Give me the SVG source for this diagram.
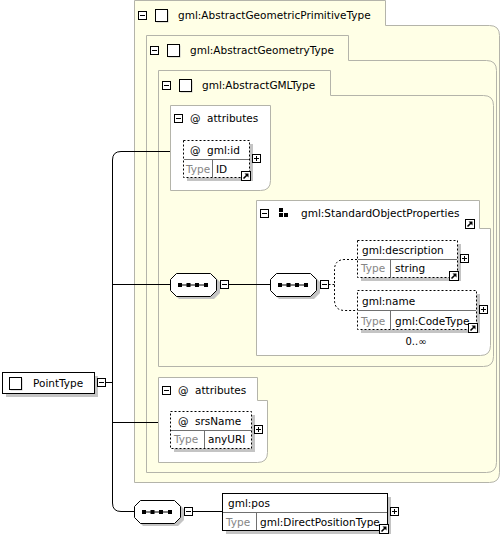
<svg xmlns="http://www.w3.org/2000/svg" xmlns:xlink="http://www.w3.org/1999/xlink" width="502" height="536" viewBox="0 0 502 536">
<style>
.grp{fill:#ffffe6;stroke:#b4b4aa;stroke-width:1}
.wgrp{fill:#ffffff;stroke:#b4b4aa;stroke-width:1}
.el{fill:#ffffff;stroke:#000;stroke-width:1;stroke-dasharray:2,2}
.els{fill:#ffffff;stroke:#000;stroke-width:1}
.sh{fill:#c4c4c4}
.dv{stroke:#707070;stroke-width:1;fill:none}
.t{font-family:"DejaVu Sans",Verdana,sans-serif;font-size:10.5px;fill:#000}
.tg{fill:#858585}
.sm{font-size:10px}
.ln{stroke:#000;stroke-width:1;fill:none}
.dl{stroke:#000;stroke-width:1;fill:none;stroke-dasharray:2,2}
</style>
<defs>
<g id="minus"><rect x="0.5" y="0.5" width="8" height="8" fill="#fff" stroke="#000"/><path d="M2,4.5H7" stroke="#000"/></g>
<g id="plus"><rect x="0.5" y="0.5" width="8" height="8" fill="#fff" stroke="#000"/><path d="M2,4.5H7M4.5,2V7" stroke="#000"/></g>
<g id="link"><rect x="0.5" y="0.5" width="9" height="9" fill="#fff" stroke="#000"/><path d="M2.5,7.5L6,4" stroke="#000" stroke-width="1.6"/><path d="M3.5,2.5H7.5V6.5Z" fill="#000"/></g>
<g id="sq"><rect x="1.5" y="1.5" width="12" height="12" fill="#c4c4c4"/><rect x="0.5" y="0.5" width="12" height="12" fill="#fff" stroke="#000"/></g>
<g id="seq"><path d="M9,3H44L50,9V20L44,26H9L3,20V9Z" fill="#c4c4c4"/><path d="M6.5,0.5H40.5L46.5,6.5V17.5L40.5,23.5H6.5L0.5,17.5V6.5Z" fill="#fff" stroke="#000"/><path d="M9,12H37" stroke="#000"/><rect x="8" y="10" width="4" height="4"/><rect x="16.5" y="10" width="4" height="4"/><rect x="25" y="10" width="4" height="4"/><rect x="34" y="10" width="4" height="4"/></g>
</defs>

<g id="AbstractGeometricPrimitiveType">
<path class="grp" d="M134.5,0.5H385.5V25.5H489.5Q499.5,25.5 499.5,35.5V472.5Q499.5,482.5 489.5,482.5H134.5Z"/>
<use xlink:href="#minus" href="#minus" x="138" y="11"/>
<use xlink:href="#sq" href="#sq" x="155" y="9"/>
<text class="t" x="178" y="19">gml:AbstractGeometricPrimitiveType</text>
</g>

<g id="AbstractGeometryType">
<path class="grp" d="M146.5,35.5H348.5V60.5H486.5Q496.5,60.5 496.5,70.5V462.5Q496.5,472.5 486.5,472.5H146.5Z"/>
<use xlink:href="#minus" href="#minus" x="150" y="46"/>
<use xlink:href="#sq" href="#sq" x="167" y="44"/>
<text class="t" x="190" y="54">gml:AbstractGeometryType</text>
</g>

<g id="AbstractGMLType">
<path class="grp" d="M158.5,70.5H330.5V95.5H483.5Q493.5,95.5 493.5,105.5V356.5Q493.5,366.5 483.5,366.5H158.5Z"/>
<use xlink:href="#minus" href="#minus" x="162" y="81"/>
<use xlink:href="#sq" href="#sq" x="179" y="79"/>
<text class="t" x="202" y="89">gml:AbstractGMLType</text>
</g>

<g id="attributes1">
<path class="wgrp" d="M170.5,105.5H270.5V180.5Q270.5,190.5 260.5,190.5H170.5Z"/>
<use xlink:href="#minus" href="#minus" x="174" y="114"/>
<text class="t" x="190" y="122">@</text>
<text class="t" x="207" y="122">attributes</text>
</g>

<g id="gml_id">
<rect class="sh" x="187" y="144" width="66" height="37"/>
<rect class="el" x="183.5" y="140.5" width="66" height="37"/>
<path class="dv" d="M184,159.5H249M212.5,160V177"/>
<text class="t" x="190" y="154">@</text>
<text class="t" x="207" y="154">gml:id</text>
<text class="t tg" x="186" y="173">Type</text>
<text class="t" x="216" y="173">ID</text>
<use xlink:href="#plus" href="#plus" x="252" y="154"/>
<use xlink:href="#link" href="#link" x="241" y="171"/>
</g>

<g id="StandardObjectProperties">
<path class="wgrp" d="M256.5,200.5H479.5V228.5H490.5V345.5Q490.5,355.5 480.5,355.5H256.5Z"/>
<use xlink:href="#minus" href="#minus" x="260" y="209"/>
<rect x="279" y="208" width="4" height="4"/>
<rect x="279" y="213" width="4" height="4"/>
<rect x="284" y="213" width="4" height="4"/>
<text class="t" x="301" y="217">gml:StandardObjectProperties</text>
<use xlink:href="#link" href="#link" x="465" y="219"/>
</g>

<g id="seq1">
<use xlink:href="#seq" href="#seq" x="170" y="273"/>
<use xlink:href="#minus" href="#minus" x="220" y="280"/>
</g>

<g id="seq2">
<use xlink:href="#seq" href="#seq" x="270" y="273"/>
<use xlink:href="#minus" href="#minus" x="320" y="280"/>
</g>

<g id="gml_description">
<rect class="sh" x="361" y="244" width="100" height="37"/>
<rect class="el" x="357.5" y="240.5" width="100" height="37"/>
<path class="dv" d="M358,259.5H457M390.5,260V277"/>
<text class="t" x="362" y="254">gml:description</text>
<text class="t tg" x="361" y="272">Type</text>
<text class="t" x="395" y="272">string</text>
<use xlink:href="#plus" href="#plus" x="460" y="254"/>
<use xlink:href="#link" href="#link" x="449" y="271"/>
</g>

<g id="gml_name">
<rect class="sh" x="361" y="294" width="119" height="39"/>
<rect class="el" x="357.5" y="290.5" width="119" height="39"/>
<path class="dv" d="M358,310.5H476M390.5,311V329"/>
<text class="t" x="362" y="305">gml:name</text>
<text class="t tg" x="361" y="325">Type</text>
<text class="t" x="395" y="325">gml:CodeType</text>
<use xlink:href="#plus" href="#plus" x="479" y="305"/>
<use xlink:href="#link" href="#link" x="468" y="323"/>
<text class="t sm" x="416" y="345" text-anchor="middle">0..∞</text>
</g>

<g id="attributes2">
<path class="wgrp" d="M158.5,377.5H257.5V400.5H267.5V452.5Q267.5,462.5 257.5,462.5H158.5Z"/>
<use xlink:href="#minus" href="#minus" x="162" y="386"/>
<text class="t" x="178" y="394">@</text>
<text class="t" x="195" y="394">attributes</text>
</g>

<g id="srsName">
<rect class="sh" x="174" y="415" width="81" height="37"/>
<rect class="el" x="170.5" y="411.5" width="81" height="37"/>
<path class="dv" d="M171,430.5H251M204.5,431V448"/>
<text class="t" x="178" y="425">@</text>
<text class="t" x="195" y="425">srsName</text>
<text class="t tg" x="174" y="443">Type</text>
<text class="t" x="208" y="443">anyURI</text>
<use xlink:href="#plus" href="#plus" x="254" y="425"/>
</g>

<g id="PointType">
<rect class="sh" x="6" y="376" width="92" height="21"/>
<rect class="els" x="2.5" y="372.5" width="92" height="21"/>
<use xlink:href="#sq" href="#sq" x="9" y="377"/>
<text class="t" x="33" y="387">PointType</text>
<use xlink:href="#minus" href="#minus" x="97" y="378"/>
</g>

<g id="seq3">
<use xlink:href="#seq" href="#seq" x="134" y="500"/>
<use xlink:href="#minus" href="#minus" x="184" y="507"/>
</g>

<g id="gml_pos">
<rect class="sh" x="226" y="497" width="165" height="37"/>
<rect class="els" x="222.5" y="493.5" width="165" height="37"/>
<path class="dv" d="M223,512.5H387M256.5,513V530"/>
<text class="t" x="228" y="507">gml:pos</text>
<text class="t tg" x="226" y="526">Type</text>
<text class="t" x="260" y="526">gml:DirectPositionType</text>
<use xlink:href="#plus" href="#plus" x="390" y="507"/>
<use xlink:href="#link" href="#link" x="379" y="524"/>
</g>

<g id="connectors">
<path class="ln" d="M105.5,382.5H112.5"/>
<path class="ln" d="M170,151.5H121Q112.5,151.5 112.5,160V503Q112.5,511.5 121,511.5H134"/>
<path class="ln" d="M112.5,284.5H170"/>
<path class="ln" d="M112.5,422.5H158"/>
<path class="ln" d="M228.5,284.5H270"/>
<path class="dl" d="M328.5,284.5H334.5"/>
<path class="dl" d="M357,259.5H345Q334.5,259.5 334.5,270V300Q334.5,310.5 345,310.5H357"/>
<path class="ln" d="M192.5,511.5H222"/>
</g>
</svg>
